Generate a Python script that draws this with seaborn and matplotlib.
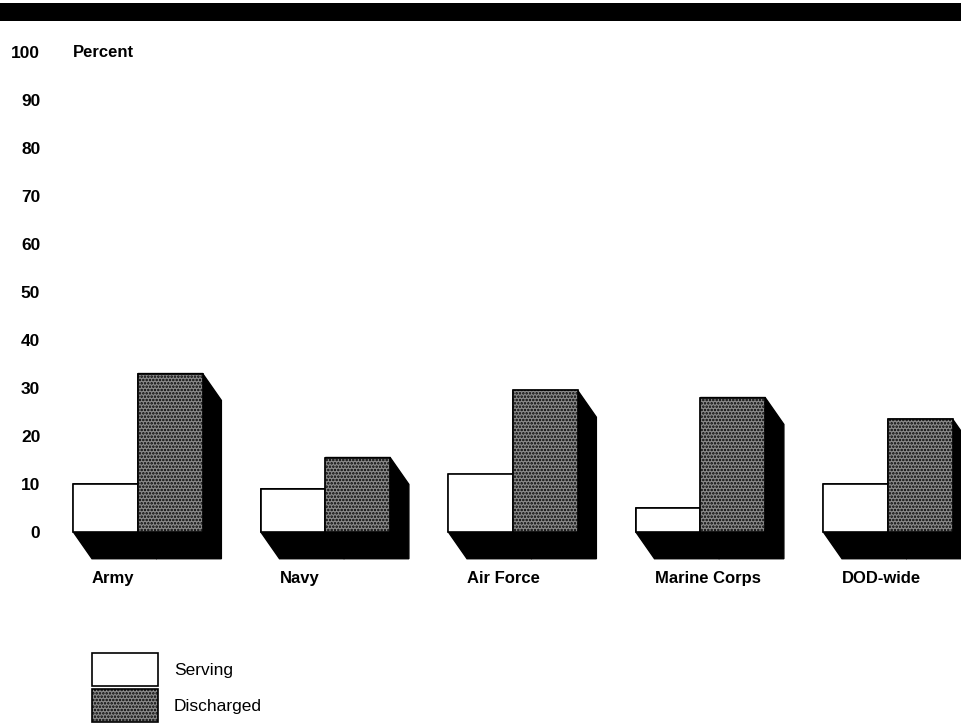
import pandas as pd
import numpy as np
import matplotlib
matplotlib.use("Agg")
import matplotlib.pyplot as plt
import seaborn as sns
from matplotlib.patches import Polygon, Rectangle, Patch

# data
services = ['Army', 'Navy', 'Air Force', 'Marine Corps', 'DOD-wide']
serving = [10, 9, 12, 5, 10]
discharged = [33, 15.5, 29.5, 28, 23.5]
yticks = [0, 10, 20, 30, 40, 50, 60, 70, 80, 90, 100]

df = pd.DataFrame({
    'service': services * 2,
    'status': ['Serving'] * len(services) + ['Discharged'] * len(services),
    'percent': serving + discharged,
})

sns.set_style('white')
plt.rcParams['font.family'] = ['Liberation Sans', 'DejaVu Sans']
plt.rcParams['text.color'] = 'black'
plt.rcParams['ytick.color'] = 'black'
plt.rcParams['hatch.linewidth'] = 1.2

fig = plt.figure(figsize=(9.62, 7.23), dpi=100)
ax = fig.add_axes([50 / 962, 123 / 723, 912 / 962, 570 / 723])

sns.barplot(data=df, x='service', y='percent', hue='status',
            palette={'Serving': 'white', 'Discharged': '#8a8a8a'},
            width=0.69, gap=0, legend=False, ax=ax, zorder=3,
            edgecolor='black', linewidth=1.2)

# stipple the discharged bars
for p in ax.patches[len(services):]:
    p.set_hatch('.....')

# 3-D shadow: sweep each bar down and to the right
dx, dy = 0.1, 5.6
for p in list(ax.patches):
    x0 = p.get_x()
    x1 = x0 + p.get_width()
    h = p.get_height()
    pts = [(x0, h), (x0, 0), (x0 + dx, -dy), (x1 + dx, -dy),
           (x1 + dx, h - dy), (x1, h)]
    ax.add_patch(Polygon(pts, closed=True, facecolor='black',
                         edgecolor='black', zorder=2))

# category labels, left aligned under each group's shadow
for i, name in enumerate(services):
    left = ax.patches[i].get_x()
    ax.text(left + dx, -9.7, name, ha='left', va='center',
            fontsize=12, fontweight='bold', color='black')

ax.text(ax.patches[0].get_x(), 100, 'Percent', ha='left', va='center',
        fontsize=12, fontweight='bold', color='black')

ax.set_xlim(-0.469, 4.395)
ax.set_ylim(-14.2, 104.6)
ax.set_yticks(yticks)
ax.set_yticklabels([str(t) for t in yticks], fontsize=12.5, fontweight='bold',
                   color='black')
ax.set_xticks([])
ax.tick_params(axis='y', length=0, pad=7)
ax.set_xlabel('')
ax.set_ylabel('')
sns.despine(ax=ax, left=True, bottom=True)

# black rule across the top
fig.patches.append(Rectangle((0, 1 - 21 / 723), 1, 18 / 723,
                             transform=fig.transFigure, facecolor='black',
                             edgecolor='none'))

handles = [Patch(facecolor='white', edgecolor='black', linewidth=1.2, label='Serving'),
           Patch(facecolor='#8a8a8a', edgecolor='black', linewidth=1.2,
                 hatch='.....', label='Discharged')]
leg = fig.legend(handles=handles, loc='upper left',
                 bbox_to_anchor=(92 / 962, 1 - 653 / 723), frameon=False,
                 fontsize=12.5, handlelength=3.78, handleheight=2.58,
                 handletextpad=0.95, labelspacing=0.15, borderpad=0,
                 borderaxespad=0)
for t in leg.get_texts():
    t.set_color('black')

fig.savefig('out.png', dpi=100)
